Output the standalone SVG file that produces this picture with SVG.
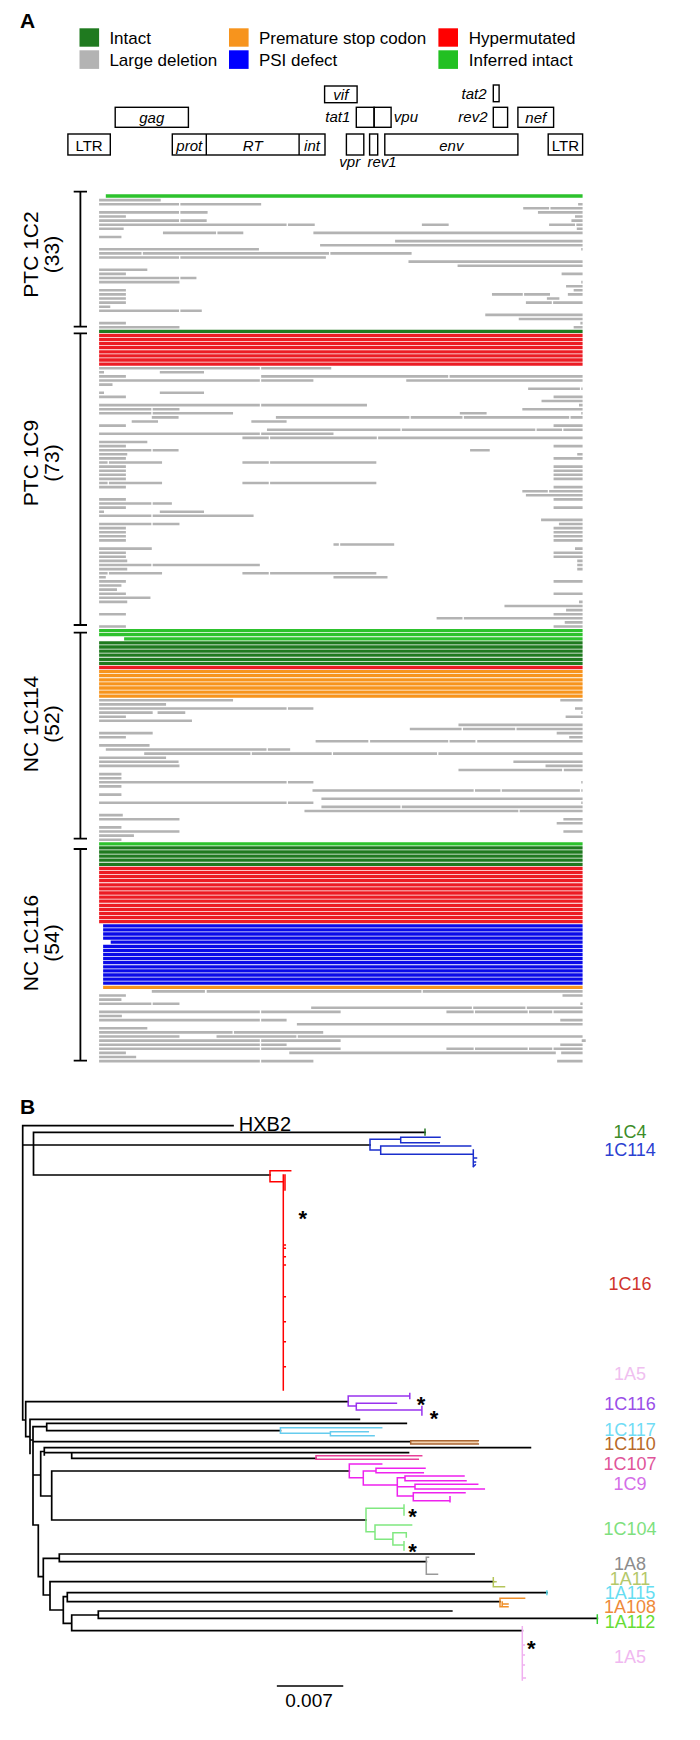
<svg xmlns="http://www.w3.org/2000/svg" width="700" height="1740" viewBox="0 0 700 1740">
<style>
text{font-family:"Liberation Sans",Arial,Helvetica,sans-serif;fill:#000}
.pl{font-size:21px;font-weight:bold}
.lg{font-size:17px}
.gi{font-size:15px;font-style:italic}
.gu{font-size:15px}
.box{fill:none;stroke:#000;stroke-width:1.4}
.brk{fill:none;stroke:#000;stroke-width:1.8}
.lab{font-size:21px}
.b{fill:none;stroke-width:3.3}
.gr{fill:none;stroke:#b3b3b3;stroke-width:2.6}
.tr{fill:none;stroke:#000;stroke-width:1.7;stroke-linecap:square}
.cl{fill:none;stroke-width:1.5;stroke-linecap:square}
.st{font-size:22px;font-weight:bold}
.tl{font-size:18px}
</style>
<rect width="700" height="1740" fill="#fff"/>

<g id="panelA-title"><text class="pl" x="20" y="28">A</text></g>

<g id="legend">
<rect x="79.5" y="28.3" width="19.6" height="18.4" fill="#1f7a1f"/>
<text class="lg" x="109.4" y="44">Intact</text>
<rect x="79.5" y="50.3" width="19.6" height="18.6" fill="#b3b3b3"/>
<text class="lg" x="109.4" y="65.7">Large deletion</text>
<rect x="229" y="28.3" width="19.6" height="18.4" fill="#f7941d"/>
<text class="lg" x="258.9" y="44">Premature stop codon</text>
<rect x="229" y="50.3" width="19.6" height="18.6" fill="#0000ff"/>
<text class="lg" x="258.9" y="65.7">PSI defect</text>
<rect x="438.4" y="28.3" width="19.6" height="18.4" fill="#ff0000"/>
<text class="lg" x="468.8" y="44">Hypermutated</text>
<rect x="438.4" y="50.3" width="19.6" height="18.6" fill="#22c022"/>
<text class="lg" x="468.8" y="65.7">Inferred intact</text>
</g>

<g id="genome-map">
<rect class="box" x="324.6" y="86" width="32.5" height="16.7"/>
<text class="gi" x="340.8" y="99.5" text-anchor="middle">vif</text>
<rect class="box" x="493.3" y="85" width="5.8" height="16.7"/>
<text class="gi" x="486.6" y="98.5" text-anchor="end">tat2</text>
<rect class="box" x="115.2" y="107.3" width="73.2" height="20"/>
<text class="gi" x="151.8" y="123" text-anchor="middle">gag</text>
<text class="gi" x="350.4" y="122" text-anchor="end">tat1</text>
<rect class="box" x="356.3" y="107.3" width="17.8" height="20"/>
<rect class="box" x="374.1" y="107.3" width="17" height="20"/>
<text class="gi" x="393.8" y="122">vpu</text>
<text class="gi" x="487.5" y="122" text-anchor="end">rev2</text>
<rect class="box" x="493.3" y="107.3" width="14.3" height="20"/>
<rect class="box" x="517.9" y="107.3" width="35.7" height="20"/>
<text class="gi" x="535.8" y="123" text-anchor="middle">nef</text>
<rect class="box" x="67.9" y="134" width="42.4" height="21"/>
<text class="gu" x="89.1" y="151" text-anchor="middle">LTR</text>
<rect class="box" x="172.3" y="134" width="152.7" height="21"/>
<line class="box" x1="206.3" y1="134" x2="206.3" y2="155"/>
<line class="box" x1="299.1" y1="134" x2="299.1" y2="155"/>
<text class="gi" x="189.3" y="150.5" text-anchor="middle">prot</text>
<text class="gi" x="252.7" y="150.5" text-anchor="middle">RT</text>
<text class="gi" x="312" y="150.5" text-anchor="middle">int</text>
<rect class="box" x="346.4" y="134" width="17.4" height="21"/>
<rect class="box" x="369.6" y="134" width="8.1" height="21"/>
<rect class="box" x="384.8" y="134" width="133.1" height="21"/>
<text class="gi" x="451.3" y="150.5" text-anchor="middle">env</text>
<rect class="box" x="548.2" y="134" width="34.4" height="21"/>
<text class="gu" x="565.4" y="151" text-anchor="middle">LTR</text>
<text class="gi" x="339.3" y="166.5">vpr</text>
<text class="gi" x="367.4" y="166.5">rev1</text>
</g>

<g id="sequence-bars" transform="scale(0.446429 1)">
<path class="b" stroke="#2dc22d" d="M237,196H1305M222,630.6H1305M222,634.7H1305M278,638.8H1305M222,843.8H1305"/>
<path class="b" stroke="#1f7a1f" d="M222,331.3H1305M222,642.9H1305M222,647H1305M222,651.1H1305M222,655.2H1305M222,659.3H1305M222,663.4H1305M222,847.9H1305M222,852H1305M222,856.1H1305M222,860.2H1305M222,864.3H1305"/>
<path class="b" stroke="#ec1c24" d="M222,335.4H1305M222,339.5H1305M222,343.6H1305M222,347.7H1305M222,351.8H1305M222,355.9H1305M222,360H1305M222,364.1H1305M222,667.5H1305M222,868.4H1305M222,872.5H1305M222,876.6H1305M222,880.7H1305M222,884.8H1305M222,888.9H1305M222,893H1305M222,897.1H1305M222,901.2H1305M222,905.3H1305M222,909.4H1305M222,913.5H1305M222,917.6H1305M222,921.7H1305"/>
<path class="b" stroke="#f7941d" d="M222,671.6H1305M222,675.7H1305M222,679.8H1305M222,683.9H1305M222,688H1305M222,692.1H1305M222,696.2H1305M231,987.3H1305"/>
<path class="b" stroke="#0a0ae8" d="M231,925.8H1305M231,929.9H1305M231,934H1305M231,938.1H1305M248,942.2H1305M231,946.3H1305M231,950.4H1305M231,954.5H1305M231,958.6H1305M231,962.7H1305M231,966.8H1305M231,970.9H1305M231,975H1305M231,979.1H1305M231,983.2H1305"/>
<path class="gr" d="M222,200.1H360
M222,204.2H401M404,204.2H585M1295,204.2H1305
M1172,208.3H1230M1233,208.3H1305
M222,212.4H401M404,212.4H465M1205,212.4H1305
M222,216.5H282M1288,216.5H1305
M222,220.6H401M404,220.6H463M1280,220.6H1305
M222,224.7H642M645,224.7H705M945,224.7H1005M1230,224.7H1288M1291,224.7H1305
M222,228.8H277M1292,228.8H1305
M365,232.9H484M487,232.9H545M702,232.9H1305
M222,237H272
M885,241.1H1305
M717,245.2H1305
M222,249.3H580M1302,249.3H1305
M222,253.4H317M320,253.4H737M740,253.4H922
M222,257.5H401M404,257.5H730
M915,261.6H1305
M1025,265.7H1305
M222,269.8H330
M222,273.9H282M1258,273.9H1305
M222,278H401M404,278H440
M222,282.1H402M1302,282.1H1305
M1268,286.2H1305
M222,290.3H282M1285,290.3H1305
M222,294.4H282M1102,294.4H1171M1174,294.4H1232M1272,294.4H1305
M222,298.5H282M1225,298.5H1253
M222,302.6H282M1178,302.6H1236M1239,302.6H1305
M222,306.7H247
M222,310.8H401M404,310.8H452
M1087,314.9H1305
M1162,319H1305
M222,323.1H282M1300,323.1H1305
M222,327.2H402M1285,327.2H1305
M222,368.2H582M585,368.2H742
M222,372.3H233M358,372.3H457
M222,376.4H282M585,376.4H1004M1007,376.4H1305
M222,380.5H582M585,380.5H702M910,380.5H1305
M222,384.6H252
M1183,388.7H1299M1302,388.7H1305
M222,392.8H233M358,392.8H457
M222,396.9H282M1240,396.9H1305
M1213,401H1305
M222,405.1H582M585,405.1H822M1297,405.1H1305
M222,409.2H339M342,409.2H402M1170,409.2H1305
M222,413.3H339M342,413.3H522M1030,413.3H1090M1302,413.3H1305
M340,417.4H400M618,417.4H917M920,417.4H1036M1039,417.4H1275M1278,417.4H1305
M295,421.5H354M563,421.5H642
M222,425.6H282M1240,425.6H1305
M598,429.7H897M900,429.7H1199M1202,429.7H1259M1262,429.7H1305
M222,433.8H582M585,433.8H747
M543,437.9H602M605,437.9H844M847,437.9H1305
M222,442H330
M222,446.1H282M1240,446.1H1305
M222,450.2H339M342,450.2H400M1053,450.2H1097
M222,454.3H285M1293,454.3H1305
M222,458.4H282M1240,458.4H1305
M222,462.5H241M244,462.5H363M543,462.5H602M605,462.5H843
M222,466.6H282M1240,466.6H1305
M222,470.7H282M1240,470.7H1305
M222,474.8H282M1240,474.8H1305
M222,478.9H282M1240,478.9H1305
M222,483H241M244,483H363M543,483H602M605,483H843
M222,487.1H282M1240,487.1H1305
M1170,491.2H1227M1230,491.2H1305
M1178,495.3H1305
M222,499.4H282M1240,499.4H1305
M222,503.5H339M342,503.5H385
M222,507.6H282M1240,507.6H1305
M222,511.7H233M358,511.7H457
M222,515.8H339M342,515.8H568
M1212,519.9H1305
M222,524H339M342,524H402M1252,524H1305
M222,528.1H282M1240,528.1H1305
M222,532.2H282M1240,532.2H1305
M222,536.3H282M1240,536.3H1305
M222,540.4H282M1240,540.4H1305
M747,544.5H759M762,544.5H883
M222,548.6H340M1288,548.6H1305
M222,552.7H282M1240,552.7H1305
M222,556.8H282M1240,556.8H1305
M222,560.9H285M1293,560.9H1305
M222,565H339M342,565H582M1293,565H1305
M222,569.1H285M1293,569.1H1305
M222,573.2H241M244,573.2H363M543,573.2H602M605,573.2H843
M222,577.3H237M747,577.3H868
M222,581.4H282M1240,581.4H1305
M222,585.5H272
M222,589.6H262
M222,593.7H282M1240,593.7H1305
M222,597.8H337
M222,601.9H285M1297,601.9H1305
M1130,606H1305
M1268,610.1H1305
M222,614.2H282M1240,614.2H1305
M978,618.3H1036M1039,618.3H1305
M1265,622.4H1305
M222,626.5H282M1240,626.5H1305
M222,700.3H522M1255,700.3H1305
M222,704.4H372
M222,708.5H642M645,708.5H702M1288,708.5H1305
M222,712.6H342M353,712.6H415M1302,712.6H1305
M222,716.7H282M1267,716.7H1305
M222,720.8H430
M1027,724.9H1305
M918,729H1034M1037,729H1154M1157,729H1305
M222,733.1H342M1247,733.1H1305
M222,737.2H282M1275,737.2H1305
M707,741.3H825M829,741.3H1004M1007,741.3H1065M1069,741.3H1305
M222,745.4H335
M237,749.5H597M600,749.5H650
M323,753.6H561M564,753.6H743M746,753.6H979M982,753.6H1305
M222,757.7H372
M222,761.8H400M1150,761.8H1305
M222,765.9H402M1222,765.9H1305
M1027,770H1259M1263,770H1305
M222,774.1H272
M222,778.2H272
M222,782.3H642M645,782.3H702M1302,782.3H1305
M222,786.4H272
M700,790.5H1061M1064,790.5H1121M1124,790.5H1299M1302,790.5H1305
M222,794.6H272
M720,798.7H1305
M222,802.8H642M645,802.8H702M1302,802.8H1305
M720,806.9H897M900,806.9H1305
M682,811H1161M1164,811H1305
M222,815.1H275
M222,819.2H402M1262,819.2H1305
M1247,823.3H1305
M222,827.4H272
M222,831.5H402M1262,831.5H1305
M222,835.6H300
M222,839.7H272
M340,991.4H459M463,991.4H944M947,991.4H1305
M222,995.5H282M1260,995.5H1305
M222,999.6H272
M222,1003.7H339M342,1003.7H402M1300,1003.7H1305
M697,1007.8H1057M1060,1007.8H1177M1180,1007.8H1305
M222,1011.9H582M585,1011.9H763M1000,1011.9H1061M1064,1011.9H1182M1185,1011.9H1237M1240,1011.9H1305
M222,1016H273
M222,1020.1H582M585,1020.1H642M1255,1020.1H1305
M665,1024.2H1305
M222,1028.3H330
M222,1032.4H521M524,1032.4H724
M222,1036.5H402M485,1036.5H664M667,1036.5H1305
M222,1040.6H582M585,1040.6H763M1303,1040.6H1312
M222,1044.7H582M585,1044.7H642M1255,1044.7H1305
M222,1048.8H582M585,1048.8H763M1000,1048.8H1061M1064,1048.8H1182M1185,1048.8H1237M1240,1048.8H1305
M222,1052.9H282M648,1052.9H1245M1257,1052.9H1305
M222,1057H305
M222,1061.1H582M585,1061.1H702M1248,1061.1H1305"/>
</g>

<g id="group-PTC1C2">
<path class="brk" d="M80.4,191.7V326.7M73.7,191.7H87M73.7,326.7H87"/>
<text class="lab" transform="translate(38,254.5) rotate(-90)" text-anchor="middle">PTC 1C2</text>
<text class="lab" transform="translate(59,254.5) rotate(-90)" text-anchor="middle">(33)</text>
</g>
<g id="group-PTC1C9">
<path class="brk" d="M80.4,333.3V625M73.7,333.3H87M73.7,625H87"/>
<text class="lab" transform="translate(38,463) rotate(-90)" text-anchor="middle">PTC 1C9</text>
<text class="lab" transform="translate(59,463) rotate(-90)" text-anchor="middle">(73)</text>
</g>
<g id="group-NC1C114">
<path class="brk" d="M80.4,632.7V838.7M73.7,632.7H87M73.7,838.7H87"/>
<text class="lab" transform="translate(38,724) rotate(-90)" text-anchor="middle">NC 1C114</text>
<text class="lab" transform="translate(59,724) rotate(-90)" text-anchor="middle">(52)</text>
</g>
<g id="group-NC1C116">
<path class="brk" d="M80.4,849V1060.7M73.7,849H87M73.7,1060.7H87"/>
<text class="lab" transform="translate(38,943) rotate(-90)" text-anchor="middle">NC 1C116</text>
<text class="lab" transform="translate(59,943) rotate(-90)" text-anchor="middle">(54)</text>
</g>

<g id="panelB-title"><text class="pl" x="20" y="1114">B</text></g>

<g id="tree">
<path class="tr" d="M233,1125.7H22.7V1420H25.7
M22.7,1145H370
M33.5,1132.3V1175
M33.5,1132.3H425
M33.5,1175H270
M25.7,1401.7H348.2
M25.7,1401.7V1436.7H30
M30,1419.3H359.4
M30,1419.3V1453.3
M30,1440H33
M33,1426.7V1525
M33,1426.7H46.7
M46.7,1423.3V1430.7
M46.7,1423.3H406.3
M46.7,1430.7H280.4
M33,1441.7H410.7
M33,1475H40.7
M40.7,1451.5V1496
M40.7,1451.5H44.3
M44.3,1447.7V1455
M44.3,1447.7H530.4
M44.3,1452.7H408.5
M71.7,1452.7V1458.3H316
M40.7,1496H51.7
M51.7,1471V1520
M51.7,1471H349.3
M51.7,1520H366
M33,1525H38.3V1576.7H43.3
M43.3,1558.3V1595
M43.3,1558.3H59.3
M59.3,1554V1561.7
M59.3,1554H474.1
M59.3,1561.7H426.3
M43.3,1595H50
M50,1581.7V1610
M50,1581.7H493.3
M50,1610H63.3
M63.3,1596.7V1623.3
M63.3,1596.7H67.3
M67.3,1592.7V1601.7
M67.3,1592.7H546.9
M67.3,1601.7H500
M63.3,1623.3H71.7
M71.7,1615V1630.7
M71.7,1615H98.3
M98.3,1611V1618.3
M98.3,1611H451.8
M98.3,1618.3H597.3
M71.7,1630.7H522.3"/>
<path class="cl" stroke="#2a7a2a" d="M425,1129.3V1135"/>
<path class="cl" stroke="#1a2ecc" d="M370,1139.3V1150M370,1139.3H400.7M400.7,1137.3V1142.7M400.7,1137.3H440M400.7,1142.7H439.3M370,1150H380.7M380.7,1146V1154.3M380.7,1146H470.7M380.7,1154.3H473.3M473.3,1150V1166.7M473.3,1158H476.5M473.3,1162H475.5M473.3,1166.7l2,-2"/>
<path class="cl" stroke="#ff0000" d="M270,1170.7V1181.7M270,1170.7H290.7M270,1181.7H282.7M283.3,1175V1390M285,1175V1190M283.3,1245h2M283.3,1248.3h2M283.3,1256.7h2M283.3,1265h2M283.3,1296.7h2M283.3,1321.7h2M283.3,1341.7h2M283.3,1366.7h2"/>
<path class="cl" stroke="#9933ee" d="M348.2,1396V1406M348.2,1396H409.8M409.8,1393.5V1398.5M348.2,1406H356.3M356.3,1403.3V1410M356.3,1403.3H396.4M356.3,1410H421.9M421.9,1406.5V1415"/>
<path class="cl" stroke="#66ccee" d="M280.4,1427.7V1433.3M280.4,1427.7H381.7M280.4,1433.3H330.4M330.4,1431.7V1435.7M330.4,1431.7H368.3M330.4,1435.7H374.1"/>
<rect x="410.7" y="1440.7" width="67.6" height="3.3" fill="#f2d2b0"/>
<path class="cl" stroke="#aa6633" d="M410.7,1440.7V1444M410.7,1440.7H478.3M410.7,1444H478.3"/>
<path class="cl" stroke="#e8409a" d="M316,1455.7V1459.3M316,1455.7H421.7M316,1459.3H418.3"/>
<path class="cl" stroke="#ee22ee" d="M349.3,1464V1477.7M349.3,1464H381.7M349.3,1477.7H363.3M363.3,1471V1485M363.3,1471H376M376,1468.3V1472.7M376,1468.3H425M376,1472.7H423.3M363.3,1485H397.3M397.3,1477.7V1496M397.3,1477.7H405M405,1476V1480.7M405,1476H464M405,1480.7H466M397.3,1486.7H415M415,1484.3V1489M415,1484.3H477.7M415,1489H484.3M397.3,1496H413.3M413.3,1492.7V1500.7M413.3,1492.7H465M413.3,1500.7H450M450,1496.7V1501.7"/>
<path class="cl" stroke="#80e880" d="M366,1508.3V1531.7M366,1508.3H404M404,1505V1515M366,1531.7H375M375,1525V1539.3M375,1525H411.6M375,1539.3H392.9M392.9,1532.7V1545M392.9,1532.7H406.3M406.3,1532.7V1537M392.9,1545H404M404,1541.7V1550"/>
<path class="cl" stroke="#999999" d="M426.3,1557.3V1574.3M426.3,1557.3H428.5M426.3,1574.3H437.5"/>
<path class="cl" stroke="#b5c55a" d="M493.3,1577.7V1586.7M493.3,1586.7H504.5M493.3,1581.7H496"/>
<path class="cl" stroke="#55ddee" stroke-width="2" d="M546.9,1591V1594.5"/>
<path class="cl" stroke="#f0902a" d="M500,1598.3V1606.7M500,1598.3H524.6M500,1606.7H508M502.2,1604H508M502.2,1602V1606"/>
<path class="cl" stroke="#33cc33" stroke-width="2" d="M597.3,1615V1623.3"/>
<path class="cl" stroke="#f0b0f0" d="M522.3,1626.7V1680M522.3,1645h2M522.3,1655h2M522.3,1665h2M522.3,1678h3"/>
<text class="st" x="302.7" y="1225.5" text-anchor="middle">*</text>
<text class="st" x="421" y="1412.3" text-anchor="middle">*</text>
<text class="st" x="434" y="1425.7" text-anchor="middle">*</text>
<text class="st" x="412.5" y="1523.5" text-anchor="middle">*</text>
<text class="st" x="412.5" y="1559" text-anchor="middle">*</text>
<text class="st" x="531.3" y="1656.3" text-anchor="middle">*</text>
<text x="238.8" y="1130.5" font-size="20">HXB2</text>
</g>

<g id="clade-labels" text-anchor="middle">
<text class="tl" x="630" y="1138.3" style="fill:#3c8c28">1C4</text>
<text class="tl" x="630" y="1155.7" style="fill:#2b3fd1">1C114</text>
<text class="tl" x="630" y="1290" style="fill:#d0342c">1C16</text>
<text class="tl" x="630" y="1380" style="fill:#f0c0f0">1A5</text>
<text class="tl" x="630" y="1410" style="fill:#9a4ee8">1C116</text>
<text class="tl" x="630" y="1436" style="fill:#70dcf5">1C117</text>
<text class="tl" x="630" y="1450" style="fill:#b86a2a">1C110</text>
<text class="tl" x="630" y="1470" style="fill:#e0559a">1C107</text>
<text class="tl" x="630" y="1490" style="fill:#d46ee8">1C9</text>
<text class="tl" x="630" y="1535" style="fill:#7ee07e">1C104</text>
<text class="tl" x="630" y="1570" style="fill:#8c8c8c">1A8</text>
<text class="tl" x="630" y="1585" style="fill:#b4c86a">1A11</text>
<text class="tl" x="630" y="1599" style="fill:#66ddf2">1A115</text>
<text class="tl" x="630" y="1613.3" style="fill:#ee8a3a">1A108</text>
<text class="tl" x="630" y="1627.7" style="fill:#66dd33">1A112</text>
<text class="tl" x="630" y="1663.3" style="fill:#f0b8f0">1A5</text>
</g>

<g id="scale-bar">
<path class="tr" d="M277.7,1686H342.4" stroke-linecap="butt"/>
<text x="309" y="1706.7" font-size="19" text-anchor="middle">0.007</text>
</g>
</svg>
